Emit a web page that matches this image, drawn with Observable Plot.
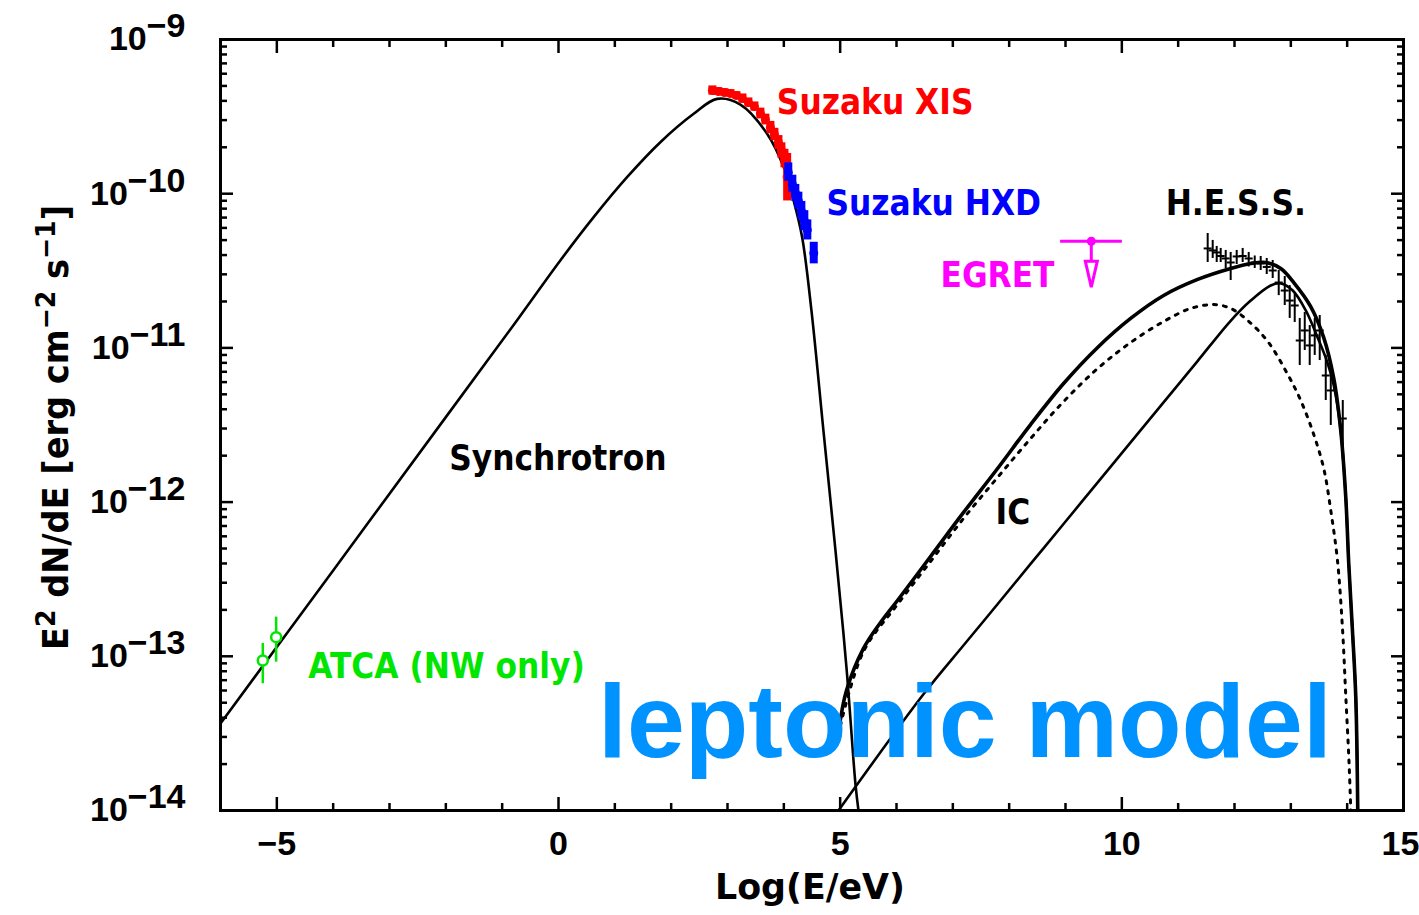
<!DOCTYPE html>
<html><head><meta charset="utf-8">
<script src="https://cdn.jsdelivr.net/npm/d3@7"></script>
<script src="https://cdn.jsdelivr.net/npm/@observablehq/plot@0.6"></script>
<style>
html,body{margin:0;padding:0;background:#fff;}
#chart{width:1419px;height:915px;}
</style></head>
<body><div id="chart"></div>
<script>
// ---------------- data (x = log10(E/eV), F = log10 of E^2 dN/dE) ----------------
const synchX = [-6.0, -4.0, -2.0, -0.8, 0.032, 0.624, 1.217, 1.808, 2.400, 2.815, 3.229, 3.703, 3.998, 4.176, 4.325, 4.490, 4.703, 4.917, 5.112, 5.272, 5.325];
const synchF = [-13.436, -12.443, -11.449, -10.853, -10.433, -10.152, -9.893, -9.666, -9.482, -9.385, -9.422, -9.611, -9.828, -10.047, -10.282, -10.757, -11.536, -12.314, -13.073, -13.831, -14.0];

const icTotalX = [4.988, 5.112, 5.414, 5.716, 6.017, 6.604, 7.190, 7.794, 8.380, 8.966, 9.570, 10.156, 10.742, 11.346, 11.932, 12.288, 12.554, 12.821, 13.052, 13.353, 13.584, 13.762, 13.886, 13.975, 14.028, 14.094, 14.153, 14.188];
const icTotalF = [-13.449, -13.222, -12.949, -12.781, -12.638, -12.353, -12.067, -11.782, -11.497, -11.231, -10.997, -10.809, -10.660, -10.556, -10.485, -10.453, -10.446, -10.485, -10.576, -10.732, -10.933, -11.198, -11.536, -11.968, -12.398, -12.833, -13.265, -14.0];

const icDottedX = [5.005, 5.414, 6.017, 6.604, 7.190, 7.794, 8.380, 8.966, 9.570, 10.156, 10.742, 11.222, 11.631, 11.932, 12.234, 12.590, 12.945, 13.176, 13.407, 13.584, 13.709, 13.828, 13.917, 13.975, 14.034, 14.064];
const icDottedF = [-13.449, -12.969, -12.664, -12.385, -12.106, -11.840, -11.588, -11.348, -11.134, -10.965, -10.829, -10.744, -10.719, -10.744, -10.822, -10.958, -11.172, -11.341, -11.562, -11.782, -12.054, -12.379, -12.820, -13.254, -13.695, -14.0];

const icLowerX = [4.970, 6.485, 7.195, 7.789, 8.380, 8.972, 9.565, 10.156, 10.748, 11.341, 11.932, 12.288, 12.643, 12.821, 13.034, 13.265, 13.460, 13.638, 13.762, 13.886, 13.975, 14.028, 14.094, 14.153, 14.188];
const icLowerF = [-14.0, -13.243, -12.927, -12.664, -12.401, -12.139, -11.875, -11.613, -11.350, -11.087, -10.824, -10.693, -10.595, -10.582, -10.628, -10.757, -10.919, -11.082, -11.244, -11.536, -11.968, -12.398, -12.833, -13.265, -14.0];

const xisX  = [2.732, 2.838, 2.945, 3.052, 3.158, 3.265, 3.371, 3.478, 3.584, 3.673, 3.762, 3.833, 3.904, 3.957, 4.011, 4.059];
const xisF  = [-9.331, -9.337, -9.344, -9.350, -9.363, -9.383, -9.409, -9.435, -9.480, -9.519, -9.571, -9.616, -9.668, -9.720, -9.772, -9.891];
const xisLo = [-9.361, -9.362, -9.369, -9.375, -9.388, -9.413, -9.439, -9.465, -9.515, -9.554, -9.611, -9.656, -9.713, -9.770, -9.832, -10.047];
const xisHi = [-9.301, -9.312, -9.319, -9.325, -9.338, -9.353, -9.379, -9.405, -9.445, -9.484, -9.531, -9.576, -9.623, -9.670, -9.712, -9.739];

const hxdX  = [4.079, 4.151, 4.204, 4.258, 4.311, 4.364, 4.417, 4.531];
const hxdF  = [-9.862, -9.937, -9.994, -10.047, -10.112, -10.177, -10.235, -10.385];
const hxdLo = [-9.92, -9.99, -10.05, -10.10, -10.17, -10.24, -10.30, -10.455];
const hxdHi = [-9.80, -9.88, -9.94, -9.99, -10.05, -10.11, -10.17, -10.315];

const atcaX  = [-5.249, -5.012];
const atcaF  = [-13.027, -12.876];
const atcaLo = [-13.178, -13.038];
const atcaHi = [-12.917, -12.746];

const egretX = [9.458];
const egretXLo = [8.913];
const egretXHi = [10.009];
const egretF = [-10.308];
const egretLimitF = [-10.606];

const hessX  = [11.524, 11.613, 11.684, 11.755, 11.844, 11.932, 12.039, 12.145, 12.252, 12.359, 12.465, 12.572, 12.678, 12.785, 12.892, 12.980, 13.069, 13.158, 13.247, 13.335, 13.424, 13.513, 13.620, 13.709, 13.922];
const hessF  = [-10.355, -10.368, -10.381, -10.404, -10.420, -10.446, -10.407, -10.404, -10.420, -10.446, -10.453, -10.475, -10.498, -10.576, -10.628, -10.693, -10.725, -10.952, -10.887, -10.984, -10.919, -10.887, -11.179, -11.276, -11.458];
const hessLo = [-10.446, -10.420, -10.446, -10.446, -10.485, -10.563, -10.459, -10.446, -10.475, -10.485, -10.498, -10.524, -10.550, -10.661, -10.725, -10.809, -10.835, -11.114, -11.017, -11.114, -11.049, -11.082, -11.341, -11.503, -11.730];
const hessHi = [-10.258, -10.303, -10.342, -10.355, -10.368, -10.381, -10.368, -10.355, -10.381, -10.404, -10.407, -10.420, -10.433, -10.498, -10.537, -10.596, -10.641, -10.809, -10.770, -10.855, -10.809, -10.790, -11.049, -11.114, -11.341];

const labelText = ["Suzaku XIS", "Suzaku HXD", "EGRET", "H.E.S.S.", "Synchrotron", "IC", "ATCA (NW only)"];
const labelX    = [3.876, 4.757, 6.781, 10.778, -1.939, 7.758, -4.444];
const labelF    = [-9.409, -10.064, -10.530, -10.064, -11.717, -12.067, -13.066];
const labelColor = ["#ff0000", "#0000ff", "#ff00ff", "#000000", "#000000", "#000000", "#00e600"];

const xMajorTicks = [-5, 0, 5, 10, 15];
const xMinorTicks = [-4, -3, -2, -1, 1, 2, 3, 4, 6, 7, 8, 9, 11, 12, 13, 14];
const yMajorTicks = [1e-14, 1e-13, 1e-12, 1e-11, 1e-10, 1e-9];
const yMinorTicks = [];
for (let e = -14; e < -9; e++) for (let m = 2; m <= 9; m++) yMinorTicks.push(m * 10 ** e);

const xTitle = "Log(E/eV)";
const caption = "leptonic model";

// ---------------- build rows ----------------
const curve = (X, F) => X.map((x, i) => ({x, f: 10 ** F[i]}));
const bars = (X, F, L, H) => X.map((x, i) => ({x, f: 10 ** F[i], lo: 10 ** L[i], hi: 10 ** H[i]}));

const synch = curve(synchX, synchF);
const icTot = curve(icTotalX, icTotalF);
const icDot = curve(icDottedX, icDottedF);
const icLow = curve(icLowerX, icLowerF);
const xis = bars(xisX, xisF, xisLo, xisHi);
const hxd = bars(hxdX, hxdF, hxdLo, hxdHi);
const atca = bars(atcaX, atcaF, atcaLo, atcaHi);
const hess = bars(hessX, hessF, hessLo, hessHi);
const egret = egretX.map((x, i) => ({x, xlo: egretXLo[i], xhi: egretXHi[i], f: 10 ** egretF[i], lim: 10 ** egretLimitF[i]}));
const labels = labelText.map((t, i) => ({t, x: labelX[i], f: 10 ** labelF[i], c: labelColor[i]}));

// ---------------- styles ----------------
const FONT = "DejaVu Sans, Verdana, sans-serif";
const TICKFONT = "Liberation Sans, Arial, Helvetica, sans-serif";
const hbar = {draw(ctx, size) { const r = Math.sqrt(size / Math.PI); ctx.moveTo(-r, 0); ctx.lineTo(r, 0); }};
const downArrow = {draw(ctx, size) { ctx.moveTo(0, 0); ctx.lineTo(-6, -26); ctx.lineTo(6, -26); ctx.closePath(); }};
const tk = {strokeWidth: 2.5, fill: "none", label: null};

const plot = Plot.plot({
  width: 1419, height: 915,
  marginLeft: 220, marginRight: 16, marginTop: 39, marginBottom: 105,
  style: {fontFamily: FONT, fontWeight: "bold", fontSize: "34px", background: "#fff", color: "#000", overflow: "visible"},
  x: {domain: [-6, 15], label: null},
  y: {type: "log", domain: [1e-14, 1e-9], label: null},
  color: {type: "identity"},
  marks: [
    Plot.axisX({anchor: "bottom", ticks: xMajorTicks, tickSize: -13, ...tk}),
    Plot.axisX({anchor: "bottom", ticks: xMinorTicks, tickSize: -7, ...tk}),
    Plot.axisX({anchor: "top", ticks: xMajorTicks, tickSize: -13, ...tk}),
    Plot.axisX({anchor: "top", ticks: xMinorTicks, tickSize: -7, ...tk}),
    Plot.axisY({anchor: "left", ticks: yMajorTicks, tickSize: -13, ...tk}),
    Plot.axisY({anchor: "left", ticks: yMinorTicks, tickSize: -7, ...tk}),
    Plot.axisY({anchor: "right", ticks: yMajorTicks, tickSize: -13, ...tk}),
    Plot.axisY({anchor: "right", ticks: yMinorTicks, tickSize: -7, ...tk}),
    Plot.axisX({anchor: "bottom", ticks: xMajorTicks, tickSize: 0, tickPadding: 20, label: null, fontSize: 34, fontFamily: TICKFONT,
      tickFormat: d => d < 0 ? "\u2212" + (-d) : String(d)}),
    Plot.axisY({anchor: "left", ticks: yMajorTicks, tickSize: 0, tickPadding: 35, label: null, fontSize: 34, fontFamily: TICKFONT,
      tickFormat: d => "\u2212" + Math.round(-Math.log10(d))}),

    Plot.line(synch, {x: "x", y: "f", stroke: "#000", strokeWidth: 2.6, curve: "catmull-rom", clip: true}),
    Plot.line(icDot, {x: "x", y: "f", stroke: "#000", strokeWidth: 3, strokeDasharray: "3,7", curve: "catmull-rom", clip: true}),
    Plot.line(icLow, {x: "x", y: "f", stroke: "#000", strokeWidth: 2.6, curve: "catmull-rom", clip: true}),
    Plot.line(icTot, {x: "x", y: "f", stroke: "#000", strokeWidth: 3.6, curve: "catmull-rom", clip: true}),

    Plot.ruleX(xis, {x: "x", y1: "lo", y2: "hi", stroke: "#ff0000", strokeWidth: 8}),
    Plot.dot(xis, {x: "x", y: "f", r: 4.5, fill: "#ff0000"}),
    Plot.ruleX(hxd, {x: "x", y1: "lo", y2: "hi", stroke: "#0000ff", strokeWidth: 8}),
    Plot.dot(hxd, {x: "x", y: "f", r: 4.5, fill: "#0000ff"}),

    Plot.ruleX(atca, {x: "x", y1: "lo", y2: "hi", stroke: "#00e600", strokeWidth: 2.5}),
    Plot.dot(atca, {x: "x", y: "f", r: 5, stroke: "#00e600", strokeWidth: 2.5, fill: "#fff"}),

    Plot.ruleX(hess, {x: "x", y1: "lo", y2: "hi", stroke: "#000", strokeWidth: 2}),
    Plot.dot(hess, {x: "x", y: "f", r: 4, symbol: hbar, stroke: "#000", strokeWidth: 2}),

    Plot.ruleY(egret, {y: "f", x1: "xlo", x2: "xhi", stroke: "#ff00ff", strokeWidth: 3}),
    Plot.ruleX(egret, {x: "x", y1: "f", y2: "lim", stroke: "#ff00ff", strokeWidth: 3}),
    Plot.dot(egret, {x: "x", y: "lim", symbol: downArrow, r: 6, stroke: "#ff00ff", strokeWidth: 3, fill: "#fff"}),
    Plot.dot(egret, {x: "x", y: "f", r: 4.5, fill: "#ff00ff"}),

    Plot.text(labels, {x: "x", y: "f", text: "t", fill: "c", textAnchor: "start", fontSize: 36}),
    Plot.frame({stroke: "#000", strokeWidth: 3})
  ]
});

document.getElementById("chart").appendChild(plot);
const svg = plot.tagName.toLowerCase() === "svg" ? plot : plot.querySelector("svg");
const NS = "http://www.w3.org/2000/svg";

const condense = (t, k) => {
  const L = t.getComputedTextLength();
  if (L > 0) { t.setAttribute("textLength", (L * k).toFixed(1)); t.setAttribute("lengthAdjust", "spacingAndGlyphs"); }
};

// y tick labels: "10" with raised exponent
svg.querySelectorAll('g[aria-label="y-axis tick label"] text').forEach(t => {
  const ex = t.textContent;
  t.textContent = "";
  const base = document.createElementNS(NS, "tspan"); base.textContent = "10"; t.appendChild(base);
  const sup = document.createElementNS(NS, "tspan"); sup.textContent = ex;
  sup.setAttribute("dy", "-13"); t.appendChild(sup);
});
// keep the last x tick label inside the picture
svg.querySelectorAll('g[aria-label="x-axis tick label"] text').forEach(t => {
  if (t.textContent === "15") t.setAttribute("dx", "-3");
});
svg.querySelectorAll('g[aria-label="text"] text').forEach(t => condense(t, 0.87));

// axis titles
const xt = document.createElementNS(NS, "text");
xt.setAttribute("x", 810); xt.setAttribute("y", 899); xt.setAttribute("text-anchor", "middle");
xt.setAttribute("font-size", 36); xt.setAttribute("textLength", 190); xt.setAttribute("lengthAdjust", "spacingAndGlyphs");
xt.textContent = xTitle; svg.appendChild(xt);

const yt = document.createElementNS(NS, "text");
yt.setAttribute("transform", "translate(68,427.5) rotate(-90)"); yt.setAttribute("text-anchor", "middle");
yt.setAttribute("font-size", 36); yt.setAttribute("textLength", 445); yt.setAttribute("lengthAdjust", "spacingAndGlyphs");
const parts = [["E", 0], ["2", 1], [" dN/dE [erg cm", 0], ["\u22122", 1], [" s", 0], ["\u22121", 1], ["]", 0]];
let raised = false;
parts.forEach(([s, sup]) => {
  const ts = document.createElementNS(NS, "tspan");
  ts.textContent = s;
  if (sup && !raised) { ts.setAttribute("dy", "-13"); ts.setAttribute("font-size", "27"); raised = true; }
  else if (!sup && raised) { ts.setAttribute("dy", "13"); raised = false; }
  else if (sup) ts.setAttribute("font-size", "27");
  yt.appendChild(ts);
});
svg.appendChild(yt);

// overlay caption
const cap = document.createElementNS(NS, "text");
cap.setAttribute("x", 598); cap.setAttribute("y", 757); cap.setAttribute("text-anchor", "start");
cap.setAttribute("font-family", "Liberation Sans, Arial, Helvetica, sans-serif");
cap.setAttribute("font-weight", "bold"); cap.setAttribute("font-size", 104); cap.setAttribute("fill", "#0092ff");
cap.textContent = caption; svg.appendChild(cap);
</script>
</body></html>
